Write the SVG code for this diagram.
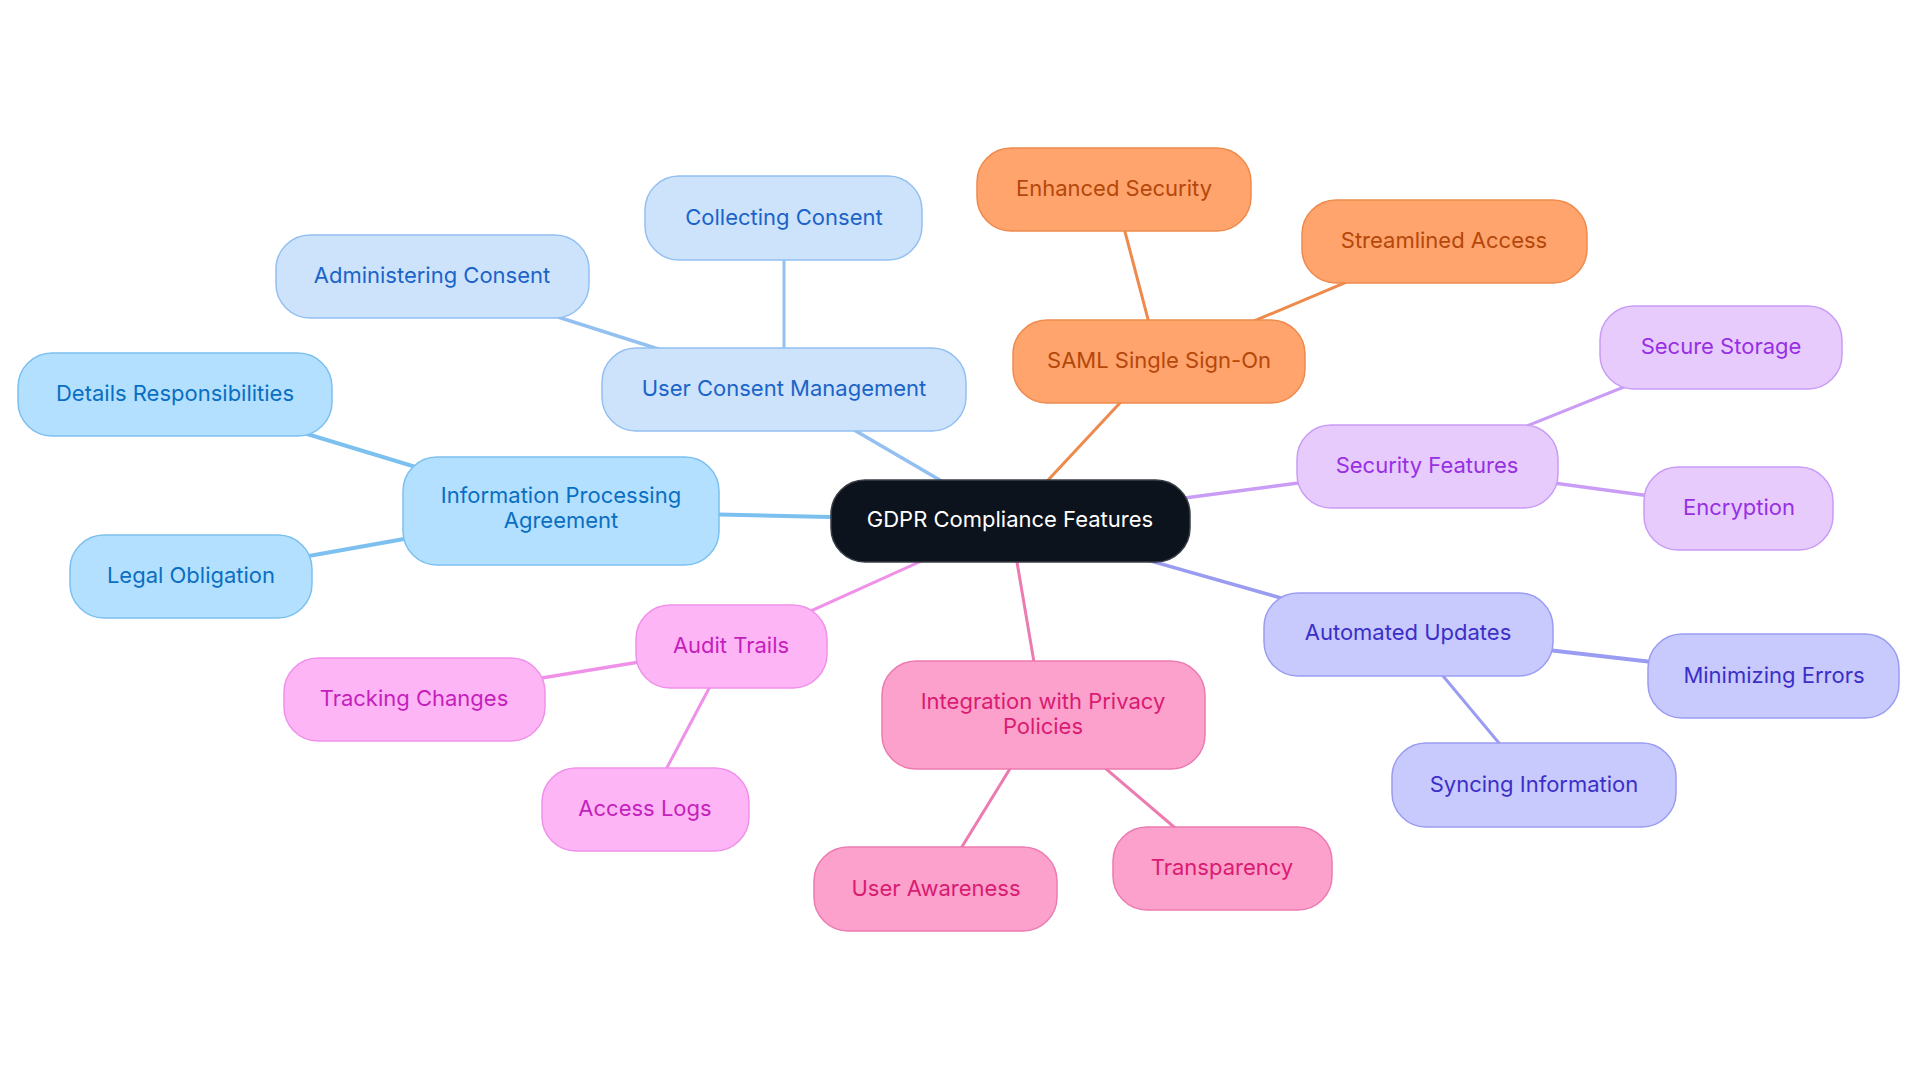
<svg xmlns="http://www.w3.org/2000/svg" width="1920" height="1083" viewBox="0 0 1920 1083">
<style>
text{font-family:Inter,"Liberation Sans",sans-serif;font-size:22px;text-anchor:middle}
.n rect{stroke-width:1.5}
.e line{fill:none;stroke-linecap:round}
.root rect{fill:#0d131c;stroke:#3a3f47}
.root text{fill:#ffffff}
.ucm rect{fill:#cde3fb;stroke:#93c0f1}
.ucm text{fill:#1b63c9}
.ipa rect{fill:#b3e0fe;stroke:#7cc0ef}
.ipa text{fill:#0a6ec2}
.org rect{fill:#fea46c;stroke:#ee8a4c}
.org text{fill:#b5470b}
.pur rect{fill:#e7cbfd;stroke:#c99cf5}
.pur text{fill:#9730e3}
.ind rect{fill:#c8cafd;stroke:#9a9cf2}
.ind text{fill:#3b2fc8}
.pnk rect{fill:#fca1cb;stroke:#ec7bb1}
.pnk text{fill:#d91b72}
.mag rect{fill:#fdb5f6;stroke:#f091e9}
.mag text{fill:#c41fbc}
.cu{stroke:#93c0f1}
.ci{stroke:#7cc0ef}
.co{stroke:#ee8a4c}
.cp{stroke:#c99cf5}
.cn{stroke:#9a9cf2}
.ck{stroke:#ec7bb1}
.cm{stroke:#f091e9}
</style>
<rect width="1920" height="1083" fill="#ffffff"/>
<g id="connectors" class="e">
<line class="cu" x1="1010" y1="521" x2="784" y2="389" stroke-width="3.5"/>
<line class="cu" x1="784" y1="389" x2="784" y2="218" stroke-width="3"/>
<line class="cu" x1="784" y1="389" x2="432" y2="277" stroke-width="3.5"/>
<line class="ci" x1="1010" y1="521" x2="561" y2="511" stroke-width="4"/>
<line class="ci" x1="561" y1="511" x2="175" y2="394" stroke-width="4"/>
<line class="ci" x1="561" y1="511" x2="191" y2="577" stroke-width="4"/>
<line class="co" x1="1010" y1="521" x2="1159" y2="361" stroke-width="3"/>
<line class="co" x1="1159" y1="361" x2="1114" y2="190" stroke-width="3"/>
<line class="co" x1="1159" y1="361" x2="1444" y2="241" stroke-width="3"/>
<line class="cp" x1="1010" y1="521" x2="1427" y2="466" stroke-width="3.5"/>
<line class="cp" x1="1427" y1="466" x2="1721" y2="348" stroke-width="3"/>
<line class="cp" x1="1427" y1="466" x2="1739" y2="508" stroke-width="3.5"/>
<line class="cn" x1="1010" y1="521" x2="1408" y2="634" stroke-width="3.5"/>
<line class="cn" x1="1408" y1="634" x2="1774" y2="676" stroke-width="4"/>
<line class="cn" x1="1408" y1="634" x2="1534" y2="785" stroke-width="3"/>
<line class="ck" x1="1010" y1="521" x2="1043" y2="715" stroke-width="3"/>
<line class="ck" x1="1043" y1="715" x2="936" y2="889" stroke-width="3"/>
<line class="ck" x1="1043" y1="715" x2="1222" y2="868" stroke-width="3"/>
<line class="cm" x1="1010" y1="521" x2="731" y2="647" stroke-width="3"/>
<line class="cm" x1="731" y1="647" x2="414" y2="699" stroke-width="3.5"/>
<line class="cm" x1="731" y1="647" x2="645" y2="809" stroke-width="3"/>
</g>
<g id="n-root" class="n root"><rect x="831" y="480" width="359" height="82" rx="34"/><text x="1010" y="527">GDPR Compliance Features</text></g>
<g id="n-ucm" class="n ucm"><rect x="602" y="348" width="364" height="83" rx="34"/><text x="784" y="396">User Consent Management</text></g>
<g id="n-collecting" class="n ucm"><rect x="645" y="176" width="277" height="84" rx="34"/><text x="784" y="225">Collecting Consent</text></g>
<g id="n-administering" class="n ucm"><rect x="276" y="235" width="313" height="83" rx="34"/><text x="432" y="283">Administering Consent</text></g>
<g id="n-ipa" class="n ipa"><rect x="403" y="457" width="316" height="108" rx="34"/><text x="561" y="503">Information Processing</text><text x="561" y="528">Agreement</text></g>
<g id="n-details" class="n ipa"><rect x="18" y="353" width="314" height="83" rx="34"/><text x="175" y="401">Details Responsibilities</text></g>
<g id="n-legal" class="n ipa"><rect x="70" y="535" width="242" height="83" rx="34"/><text x="191" y="583">Legal Obligation</text></g>
<g id="n-saml" class="n org"><rect x="1013" y="320" width="292" height="83" rx="34"/><text x="1159" y="368">SAML Single Sign-On</text></g>
<g id="n-enhanced" class="n org"><rect x="977" y="148" width="274" height="83" rx="34"/><text x="1114" y="196">Enhanced Security</text></g>
<g id="n-streamlined" class="n org"><rect x="1302" y="200" width="285" height="83" rx="34"/><text x="1444" y="248">Streamlined Access</text></g>
<g id="n-security" class="n pur"><rect x="1297" y="425" width="261" height="83" rx="34"/><text x="1427" y="473">Security Features</text></g>
<g id="n-storage" class="n pur"><rect x="1600" y="306" width="242" height="83" rx="34"/><text x="1721" y="354">Secure Storage</text></g>
<g id="n-encryption" class="n pur"><rect x="1644" y="467" width="189" height="83" rx="34"/><text x="1739" y="515">Encryption</text></g>
<g id="n-automated" class="n ind"><rect x="1264" y="593" width="289" height="83" rx="34"/><text x="1408" y="640">Automated Updates</text></g>
<g id="n-minimizing" class="n ind"><rect x="1648" y="634" width="251" height="84" rx="34"/><text x="1774" y="683">Minimizing Errors</text></g>
<g id="n-syncing" class="n ind"><rect x="1392" y="743" width="284" height="84" rx="34"/><text x="1534" y="792">Syncing Information</text></g>
<g id="n-integration" class="n pnk"><rect x="882" y="661" width="323" height="108" rx="34"/><text x="1043" y="709">Integration with Privacy</text><text x="1043" y="734">Policies</text></g>
<g id="n-awareness" class="n pnk"><rect x="814" y="847" width="243" height="84" rx="34"/><text x="936" y="896">User Awareness</text></g>
<g id="n-transparency" class="n pnk"><rect x="1113" y="827" width="219" height="83" rx="34"/><text x="1222" y="875">Transparency</text></g>
<g id="n-audit" class="n mag"><rect x="636" y="605" width="191" height="83" rx="34"/><text x="731" y="653">Audit Trails</text></g>
<g id="n-tracking" class="n mag"><rect x="284" y="658" width="261" height="83" rx="34"/><text x="414" y="706">Tracking Changes</text></g>
<g id="n-access" class="n mag"><rect x="542" y="768" width="207" height="83" rx="34"/><text x="645" y="816">Access Logs</text></g>
</svg>
